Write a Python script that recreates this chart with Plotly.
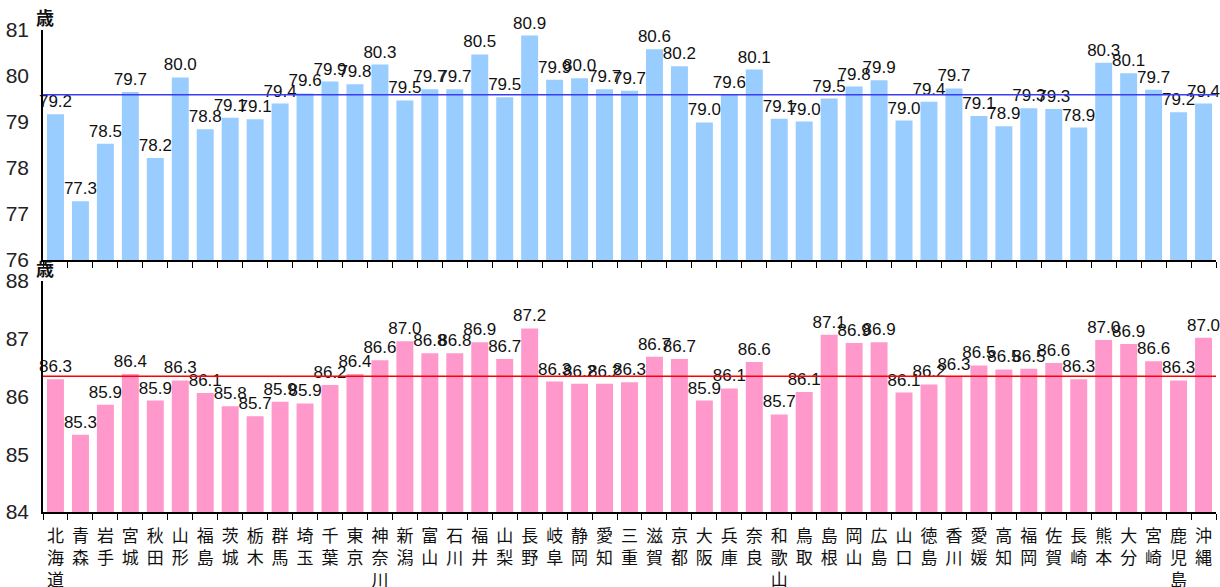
import plotly.graph_objects as go

prefectures = ["北海道", "青森", "岩手", "宮城", "秋田", "山形", "福島", "茨城", "栃木", "群馬",
               "埼玉", "千葉", "東京", "神奈川", "新潟", "富山", "石川", "福井", "山梨", "長野",
               "岐阜", "静岡", "愛知", "三重", "滋賀", "京都", "大阪", "兵庫", "奈良", "和歌山",
               "鳥取", "島根", "岡山", "広島", "山口", "徳島", "香川", "愛媛", "高知", "福岡",
               "佐賀", "長崎", "熊本", "大分", "宮崎", "鹿児島", "沖縄"]

male = [79.17, 77.28, 78.53, 79.65, 78.22, 79.97, 78.84, 79.09, 79.06, 79.40,
        79.62, 79.88, 79.82, 80.25, 79.47, 79.71, 79.71, 80.47, 79.54, 80.88,
        79.92, 79.95, 79.71, 79.68, 80.58, 80.21, 78.99, 79.59, 80.14, 79.07,
        79.01, 79.51, 79.77, 79.91, 79.03, 79.44, 79.73, 79.13, 78.91, 79.30,
        79.28, 78.88, 80.29, 80.06, 79.70, 79.21, 79.40]

female = [86.30, 85.34, 85.86, 86.39, 85.93, 86.28, 86.06, 85.83, 85.66, 85.91,
          85.88, 86.20, 86.39, 86.63, 86.96, 86.75, 86.75, 86.94, 86.65, 87.18,
          86.26, 86.22, 86.22, 86.25, 86.69, 86.65, 85.93, 86.14, 86.60, 85.69,
          86.08, 87.07, 86.93, 86.94, 86.07, 86.21, 86.34, 86.54, 86.47, 86.48,
          86.58, 86.30, 86.98, 86.91, 86.61, 86.28, 87.02]

male_avg = 79.59
female_avg = 86.35
male_range = [76, 81]
female_range = [84, 88]
unit = "歳"

cats = ["<br>".join(p) for p in prefectures]

NUM_FONT = "Liberation Sans, Arial, sans-serif"
TICK_FONT = "Liberation Sans Narrow, Liberation Sans, Arial, sans-serif"
CJK_FONT = "Noto Sans CJK JP, sans-serif"

fig = go.Figure()
fig.add_trace(go.Bar(
    x=cats, y=male, xaxis="x", yaxis="y",
    marker=dict(color="#99CCFF", line=dict(width=0)),
    width=0.68,
    texttemplate="%{y:.1f}", textposition="outside", cliponaxis=False,
    constraintext="none",
    textfont=dict(family=NUM_FONT, size=17, color="#111111"),
    showlegend=False,
))
fig.add_trace(go.Bar(
    x=cats, y=female, xaxis="x2", yaxis="y2",
    marker=dict(color="#FF99CC", line=dict(width=0)),
    width=0.68,
    texttemplate="%{y:.1f}", textposition="outside", cliponaxis=False,
    constraintext="none",
    textfont=dict(family=NUM_FONT, size=17, color="#111111"),
    showlegend=False,
))

fig.add_shape(type="line", xref="x domain", yref="y", x0=0, x1=1,
              y0=male_avg, y1=male_avg, line=dict(color="#3C3CF0", width=1.5))
fig.add_shape(type="line", xref="x2 domain", yref="y2", x0=0, x1=1,
              y0=female_avg, y1=female_avg, line=dict(color="#FF0000", width=1.5))

axis_common = dict(showgrid=False, zeroline=False, showline=True, linecolor="#000000",
                   linewidth=1.5, automargin=False)

top_dom = [0.5228, 1.0]
bot_dom = [0.0, 0.479]

fig.update_layout(
    width=1220, height=587,
    margin=dict(l=43, r=4, t=30, b=75),
    paper_bgcolor="white", plot_bgcolor="white",
    bargap=0.32,
    xaxis=dict(domain=[0, 1], anchor="y", type="category", showticklabels=False,
               ticks="outside", ticklen=6, tickcolor="#000000", tickson="boundaries",
               **axis_common),
    yaxis=dict(domain=top_dom, anchor="x", range=male_range, dtick=1,
               ticks="", ticklabelstandoff=8,
               tickfont=dict(family=TICK_FONT, size=21, color="#222222"),
               **axis_common),
    xaxis2=dict(domain=[0, 1], anchor="y2", type="category",
                ticks="outside", ticklen=6, tickcolor="#000000", tickson="boundaries",
                tickfont=dict(family=CJK_FONT, size=17, color="#111111"),
                tickangle=0, ticklabelstandoff=8,
                **axis_common),
    yaxis2=dict(domain=bot_dom, anchor="x2", range=female_range, dtick=1,
                ticks="", ticklabelstandoff=8,
                tickfont=dict(family=TICK_FONT, size=21, color="#222222"),
                **axis_common),
)

fig.add_annotation(text="<b>" + unit + "</b>", xref="paper", yref="y domain", x=0, y=1,
                   xanchor="center", yanchor="bottom", showarrow=False, xshift=2, yshift=-2,
                   font=dict(family=CJK_FONT, size=18, color="#111111"))
fig.add_annotation(text="<b>" + unit + "</b>", xref="paper", yref="y2 domain", x=0, y=1,
                   xanchor="center", yanchor="bottom", showarrow=False, xshift=2, yshift=-2,
                   font=dict(family=CJK_FONT, size=18, color="#111111"))

fig.write_html("out.html")
